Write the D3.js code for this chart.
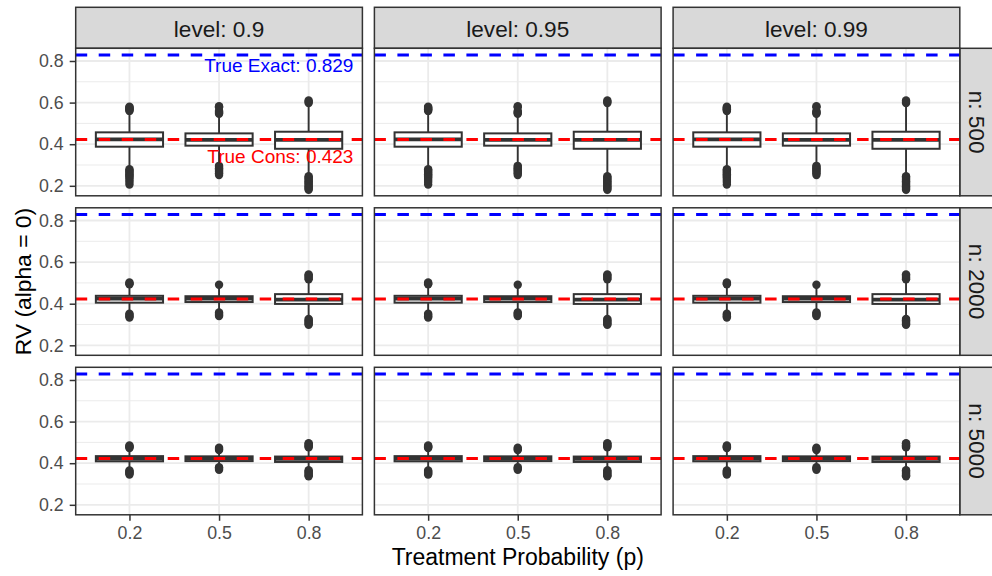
<!DOCTYPE html>
<html>
<head>
<meta charset="utf-8">
<script src="https://cdn.jsdelivr.net/npm/d3@7"></script>
<style>
body { margin: 0; background: #fff; }
text { font-family: "Liberation Sans", Arial, sans-serif; }
</style>
</head>
<body>
<div id="chart"></div>
<script>
var levels = ["0.9", "0.95", "0.99"];
var sizes = ["500", "2000", "5000"];
var probs = ["0.2", "0.5", "0.8"];

var trueExact = 0.829,
    trueCons = 0.423;

// [lower whisker, q1, median, q3, upper whisker] for p = 0.2, 0.5, 0.8
var box500 = [[0.285, 0.388, 0.423, 0.457, 0.556], [0.300, 0.393, 0.421, 0.452, 0.542], [0.254, 0.378, 0.421, 0.460, 0.582]];
var box2000 = [[0.355, 0.405, 0.424, 0.438, 0.490], [0.362, 0.408, 0.424, 0.436, 0.484], [0.330, 0.399, 0.420, 0.446, 0.515]];
var box5000 = [[0.368, 0.409, 0.422, 0.434, 0.470], [0.385, 0.410, 0.422, 0.433, 0.460], [0.370, 0.406, 0.421, 0.432, 0.472]];

// outliers (above / below whiskers)
var hi500 = [[0.560, 0.564, 0.568, 0.572, 0.576, 0.580], [0.546, 0.550, 0.555, 0.560, 0.578, 0.583], [0.598, 0.604, 0.610]];
var lo500 = [[0.280, 0.274, 0.268, 0.262, 0.256, 0.250, 0.244, 0.238, 0.228, 0.218, 0.206],
             [0.296, 0.290, 0.284, 0.278, 0.272, 0.266, 0.260, 0.252],
             [0.246, 0.240, 0.234, 0.228, 0.222, 0.216, 0.210, 0.204, 0.198, 0.192, 0.186, 0.181]];
var hi2000 = [[0.493, 0.497, 0.502], [0.491], [0.517, 0.523, 0.529, 0.535, 0.541]];
var lo2000 = [[0.352, 0.346, 0.340, 0.334], [0.358, 0.352, 0.346, 0.341], [0.327, 0.321, 0.315, 0.309, 0.303, 0.299]];
var hi5000 = [[0.473, 0.477, 0.481, 0.485], [0.463, 0.468, 0.474], [0.476, 0.481, 0.486, 0.492, 0.496]];
var lo5000 = [[0.365, 0.360, 0.355, 0.350, 0.346], [0.381, 0.375, 0.368], [0.366, 0.360, 0.354, 0.348, 0.342, 0.337]];

var boxes = [box500, box2000, box5000];
var his = [hi500, hi2000, hi5000];
var los = [lo500, lo2000, lo5000];

var yMajor = [0.2, 0.4, 0.6, 0.8];
var yMinor = [0.3, 0.5, 0.7];

var width = 992,
    height = 576;

var padL = 75.7, padT = 48.3,
    pw = 286.7, ph = 147.5, gap = 12,
    stripH = 41;

var svg = d3.select("#chart").append("svg")
    .attr("width", width)
    .attr("height", height)
    .style("display", "block");

svg.append("rect").attr("width", width).attr("height", height).attr("fill", "#fff");

var x = d3.scalePoint().domain(probs).range([0, pw]).padding(0.6);
var step = x.step();
var bw = step * 0.75;

var y = d3.scaleLinear().domain([0.152, 0.861]).range([ph, 0]);

// top strips
levels.forEach(function(lv, c) {
  var sx = padL + c * (pw + gap);
  var s = svg.append("g").attr("transform", "translate(" + sx + "," + (padT - stripH) + ")");
  s.append("rect").attr("width", pw).attr("height", stripH)
    .attr("fill", "#D9D9D9").attr("stroke", "#333333").attr("stroke-width", 1.5);
  s.append("text").attr("x", pw / 2).attr("y", 29.8)
    .attr("text-anchor", "middle").attr("font-size", 22.6).attr("fill", "#1A1A1A")
    .text("level: " + lv);
});

// right strips
sizes.forEach(function(n, r) {
  var sy = padT + r * (ph + gap);
  var sx = padL + 3 * pw + 2 * gap;
  svg.append("rect").attr("x", sx).attr("y", sy).attr("width", stripH).attr("height", ph)
    .attr("fill", "#D9D9D9").attr("stroke", "#333333").attr("stroke-width", 1.5);
  svg.append("text")
    .attr("transform", "translate(" + (sx + 9) + "," + (sy + ph / 2) + ") rotate(90)")
    .attr("text-anchor", "middle").attr("font-size", 22.6).attr("fill", "#1A1A1A")
    .text("n: " + n);
});

sizes.forEach(function(n, r) {
  levels.forEach(function(lv, c) {
    var g = svg.append("g")
      .attr("transform", "translate(" + (padL + c * (pw + gap)) + "," + (padT + r * (ph + gap)) + ")");

    g.append("rect").attr("width", pw).attr("height", ph).attr("fill", "#fff");

    g.selectAll(".minor").data(yMinor).enter().append("line")
      .attr("x1", 0).attr("x2", pw)
      .attr("y1", d => y(d)).attr("y2", d => y(d))
      .attr("stroke", "#EBEBEB").attr("stroke-width", 1);
    g.selectAll(".major").data(yMajor).enter().append("line")
      .attr("x1", 0).attr("x2", pw)
      .attr("y1", d => y(d)).attr("y2", d => y(d))
      .attr("stroke", "#EBEBEB").attr("stroke-width", 1.8);
    g.selectAll(".vmajor").data(probs).enter().append("line")
      .attr("x1", d => x(d)).attr("x2", d => x(d))
      .attr("y1", 0).attr("y2", ph)
      .attr("stroke", "#EBEBEB").attr("stroke-width", 1.8);

    probs.forEach(function(p, i) {
      var b = boxes[r][i];
      var cx = x(p);
      g.append("line").attr("x1", cx).attr("x2", cx).attr("y1", y(b[3])).attr("y2", y(b[4]))
        .attr("stroke", "#333333").attr("stroke-width", 1.9);
      g.append("line").attr("x1", cx).attr("x2", cx).attr("y1", y(b[1])).attr("y2", y(b[0]))
        .attr("stroke", "#333333").attr("stroke-width", 1.9);
      g.append("rect").attr("x", cx - bw / 2).attr("width", bw)
        .attr("y", y(b[3])).attr("height", y(b[1]) - y(b[3]))
        .attr("fill", "#fff").attr("stroke", "#333333").attr("stroke-width", 2);
      g.append("line").attr("x1", cx - bw / 2).attr("x2", cx + bw / 2)
        .attr("y1", y(b[2])).attr("y2", y(b[2]))
        .attr("stroke", "#333333").attr("stroke-width", 3.8);
      g.selectAll(null).data(his[r][i].concat(los[r][i])).enter().append("circle")
        .attr("cx", cx).attr("cy", d => y(d)).attr("r", 4.2)
        .attr("fill", "#333333");
    });

    g.append("line").attr("x1", 0).attr("x2", pw)
      .attr("y1", y(trueExact)).attr("y2", y(trueExact))
      .attr("stroke", "#0000FF").attr("stroke-width", 3).attr("stroke-dasharray", "11.5,11.5");
    g.append("line").attr("x1", 0).attr("x2", pw)
      .attr("y1", y(trueCons)).attr("y2", y(trueCons))
      .attr("stroke", "#FF0000").attr("stroke-width", 3).attr("stroke-dasharray", "11.5,11.5");

    if (r == 0 && c == 0) {
      var lx = x("0.8") + step / 2;
      g.append("text").attr("x", lx).attr("y", y(0.78)).attr("dy", "0.36em")
        .attr("text-anchor", "end").attr("font-size", 19).attr("fill", "#0000FF")
        .text("True Exact: " + trueExact);
      g.append("text").attr("x", lx).attr("y", y(0.342)).attr("dy", "0.36em")
        .attr("text-anchor", "end").attr("font-size", 19).attr("fill", "#FF0000")
        .text("True Cons: " + trueCons);
    }

    g.append("rect").attr("width", pw).attr("height", ph)
      .attr("fill", "none").attr("stroke", "#333333").attr("stroke-width", 1.5);

    if (c == 0) {
      var ya = g.append("g").call(d3.axisLeft(y).tickValues(yMajor).tickSize(6).tickPadding(6).tickFormat(d3.format(".1f")));
      ya.select(".domain").remove();
      ya.selectAll("line").attr("stroke", "#333333").attr("stroke-width", 1.5);
      ya.selectAll("text").attr("font-size", 17.8).attr("fill", "#4D4D4D").attr("font-family", null);
    }
    if (r == 2) {
      var xa = g.append("g").attr("transform", "translate(0," + ph + ")")
        .call(d3.axisBottom(x).tickSize(6).tickPadding(6));
      xa.select(".domain").remove();
      xa.selectAll("line").attr("stroke", "#333333").attr("stroke-width", 1.5);
      xa.selectAll("text").attr("font-size", 17.8).attr("fill", "#4D4D4D").attr("font-family", null);
    }
  });
});

var plotW = 3 * pw + 2 * gap,
    plotH = 3 * ph + 2 * gap;

svg.append("text")
  .attr("x", padL + plotW / 2).attr("y", 565)
  .attr("text-anchor", "middle").attr("font-size", 23).attr("fill", "#000")
  .text("Treatment Probability (p)");

svg.append("text")
  .attr("transform", "translate(31," + (padT + plotH / 2) + ") rotate(-90)")
  .attr("text-anchor", "middle").attr("font-size", 22.8).attr("fill", "#000")
  .text("RV (alpha = 0)");
</script>
</body>
</html>
